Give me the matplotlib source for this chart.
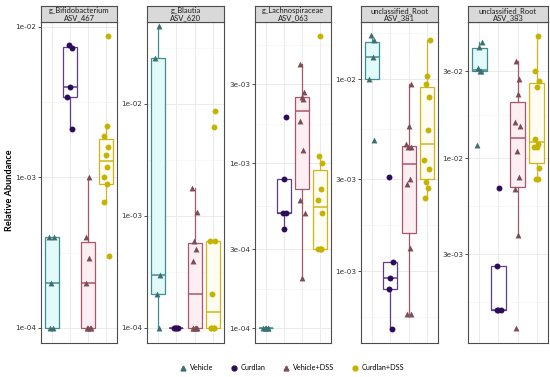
import numpy as np
import matplotlib
matplotlib.use("Agg")
import matplotlib.pyplot as plt
from matplotlib.lines import Line2D

groups = ["Vehicle", "Curdlan", "Vehicle+DSS", "Curdlan+DSS"]
strip_titles = ["g_Bifidobacterium\nASV_467", "g_Blautia\nASV_620", "g_Lachnospiraceae\nASV_063",
                "unclassified_Root\nASV_381", "unclassified_Root\nASV_383"]

# points per panel, per group (relative abundance)
p1_points = [[1e-4, 1e-4, 2e-4, 4e-4, 4e-4],
             [2.1e-3, 3.4e-3, 4.0e-3, 7.3e-3, 7.6e-3],
             [1e-4, 1e-4, 1e-4, 1e-4, 2e-4, 2.9e-4, 4e-4, 1e-3],
             [3e-4, 6.9e-4, 9e-4, 1.0e-3, 1.18e-3, 1.4e-3, 1.6e-3, 1.9e-3, 2.2e-3, 8.7e-3]]
p2_points = [[1e-4, 2e-4, 3e-4, 2.6e-2, 5e-2],
             [1e-4, 1e-4, 1e-4, 1e-4, 1e-4],
             [1e-4, 1e-4, 1e-4, 1e-4, 1e-4, 4e-4, 5.1e-4, 6e-4, 1.09e-3, 1.78e-3],
             [1e-4, 1e-4, 1e-4, 1e-4, 2e-4, 6e-4, 6e-4, 6.2e-3, 8.7e-3]]
p3_points = [[1e-4, 1e-4, 1e-4, 1e-4, 1e-4],
             [4e-4, 5e-4, 5e-4, 8e-4, 1.9e-3],
             [2e-4, 5e-4, 6e-4, 1.2e-3, 1.8e-3, 2.45e-3, 2.5e-3, 2.7e-3, 4e-3],
             [3e-4, 3e-4, 3e-4, 3e-4, 5e-4, 6e-4, 7e-4, 1e-3, 1.1e-3, 5.9e-3]]
p4_points = [[4.8e-3, 1e-2, 1.3e-2, 1.6e-2, 1.7e-2],
             [5e-4, 8.1e-4, 9.2e-4, 1.11e-3, 3.1e-3],
             [6e-4, 6e-4, 1.32e-3, 2.85e-3, 3.0e-3, 4.4e-3, 4.4e-3, 4.6e-3, 5.7e-3, 9.4e-3],
             [2.4e-3, 2.7e-3, 2.9e-3, 3.4e-3, 3.8e-3, 5.4e-3, 8.1e-3, 9.4e-3, 1.04e-2, 1.6e-2]]
p5_points = [[1.18e-2, 3e-2, 3e-2, 3.1e-2, 4.05e-2, 4.3e-2],
             [1.48e-3, 1.48e-3, 1.48e-3, 2.58e-3, 6.9e-3],
             [1.18e-3, 3.8e-3, 6.8e-3, 7.9e-3, 1.1e-2, 1.5e-2, 1.58e-2, 2.24e-2, 2.7e-2, 3.4e-2],
             [7.7e-3, 7.7e-3, 8.85e-3, 1.16e-2, 1.16e-2, 1.2e-2, 1.27e-2, 2.45e-2, 2.64e-2, 3e-2, 4.65e-2]]

# box stats per panel, per group: [whisker_low, q1, median, q3, whisker_high]
p1_box = [[1e-4, 1e-4, 2e-4, 4e-4, 4e-4],
          [2.1e-3, 3.4e-3, 4.0e-3, 7.4e-3, 7.6e-3],
          [1e-4, 1e-4, 2e-4, 3.7e-4, 1e-3],
          [6.9e-4, 9.1e-4, 1.28e-3, 1.8e-3, 2.2e-3]]
p2_box = [[1e-4, 2e-4, 3e-4, 2.6e-2, 5e-2],
          [1e-4, 1e-4, 1e-4, 1e-4, 1e-4],
          [1e-4, 1e-4, 2e-4, 5.75e-4, 1.78e-3],
          [1e-4, 1e-4, 1.39e-4, 6e-4, 6e-4]]
p3_box = [[1e-4, 1e-4, 1e-4, 1e-4, 1e-4],
          [4e-4, 5e-4, 5e-4, 8e-4, 8e-4],
          [2e-4, 7.0e-4, 2.07e-3, 2.5e-3, 4e-3],
          [3e-4, 3e-4, 5.4e-4, 9.1e-4, 1.1e-3]]
p4_box = [[1e-2, 1e-2, 1.3e-2, 1.56e-2, 1.7e-2],
          [5e-4, 8.1e-4, 9.2e-4, 1.11e-3, 1.11e-3],
          [6e-4, 1.58e-3, 3.6e-3, 4.5e-3, 9.4e-3],
          [2.4e-3, 3.0e-3, 4.6e-3, 9.1e-3, 1.6e-2]]
p5_box = [[3e-2, 3e-2, 3.05e-2, 4.0e-2, 4.3e-2],
          [1.48e-3, 1.48e-3, 1.48e-3, 2.58e-3, 2.58e-3],
          [3.8e-3, 7.0e-3, 1.29e-2, 2.03e-2, 3.4e-2],
          [7.7e-3, 9.4e-3, 1.23e-2, 2.58e-2, 4.65e-2]]

# y axis breaks and limits (log10) per panel
p_breaks = [[1e-2, 1e-3, 1e-4], [1e-2, 1e-3, 1e-4], [3e-3, 1e-3, 3e-4, 1e-4],
            [1e-2, 3e-3, 1e-3], [3e-2, 1e-2, 3e-3]]
p_break_labels = [["1e-02", "1e-03", "1e-04"], ["1e-02", "1e-03", "1e-04"],
                  ["3e-03", "1e-03", "3e-04", "1e-04"], ["1e-02", "3e-03", "1e-03"],
                  ["3e-02", "1e-02", "3e-03"]]
p_ylim_log = [(-4.10, -1.967), (-4.134, -1.268), (-4.09, -2.145), (-3.375, -1.703), (-3.009, -1.255)]

all_points = [p1_points, p2_points, p3_points, p4_points, p5_points]
all_boxes = [p1_box, p2_box, p3_box, p4_box, p5_box]

edge_colors = ["#3f8f8f", "#5b3d8c", "#a8566a", "#d2b41a"]
fill_colors = ["#e3fafa", "#ffffff", "#fdeef4", "#fffdf2"]
point_colors = ["#3c7070", "#2e0c5c", "#7d4c55", "#c4b300"]
markers = ["^", "o", "^", "o"]

jitter = [-0.11, 0.07, -0.03, 0.12, -0.14, 0.03, 0.10, -0.07, 0.0, 0.14, -0.10, 0.05]

W, H = 550, 377
fig = plt.figure(figsize=(5.5, 3.77), dpi=100)
plt.rcParams['font.family'] = ['DejaVu Sans']

panel_x = [(41, 117), (147, 224), (255, 331), (361, 438), (468, 548)]
top, bottom, strip_top = 22, 343, 6

for pi in range(5):
    x0, x1 = panel_x[pi]
    ax = fig.add_axes([x0 / W, 1 - bottom / H, (x1 - x0) / W, (bottom - top) / H])
    sax = fig.add_axes([x0 / W, 1 - top / H, (x1 - x0) / W, (top - strip_top) / H])
    sax.set_xticks([]); sax.set_yticks([])
    sax.set_facecolor("#d9d9d9")
    for s in sax.spines.values():
        s.set_color("#4d4d4d"); s.set_linewidth(0.8)
    sax.text(0.5, 0.5, strip_titles[pi], ha="center", va="center", fontsize=5.4,
             color="#1a1a1a", linespacing=0.95, transform=sax.transAxes, family="Lato")

    ax.set_yscale("log")
    lo, hi = p_ylim_log[pi]
    ax.set_ylim(10 ** lo, 10 ** hi)
    ax.set_xlim(0.4, 4.6)
    # grid
    br = np.log10(p_breaks[pi])
    br_sorted = np.sort(br)
    for b in br_sorted:
        ax.axhline(10 ** b, color="#ebebeb", lw=0.7, zorder=0)
    step = br_sorted[1] - br_sorted[0]
    minors = list((br_sorted[:-1] + br_sorted[1:]) / 2)
    minors += [br_sorted[0] - step / 2, br_sorted[-1] + step / 2]
    for m in minors:
        ax.axhline(10 ** m, color="#f4f4f4", lw=0.5, zorder=0)
    for xc in range(1, 5):
        ax.axvline(xc, color="#ebebeb", lw=0.7, zorder=0)

    for gi in range(4):
        wl, q1, med, q3, wh = all_boxes[pi][gi]
        st = dict(whislo=wl, q1=q1, med=med, q3=q3, whishi=wh, fliers=[])
        ax.bxp([st], positions=[gi + 1], widths=0.75, showfliers=False, showcaps=False,
               patch_artist=True,
               boxprops=dict(facecolor=fill_colors[gi], edgecolor=edge_colors[gi], lw=0.9),
               medianprops=dict(color=edge_colors[gi], lw=1.1),
               whiskerprops=dict(color=edge_colors[gi], lw=0.9))
        pts = all_points[pi][gi]
        xs = [gi + 1 + jitter[(k + gi * 3 + pi) % len(jitter)] for k in range(len(pts))]
        ax.scatter(xs, pts, marker=markers[gi], s=18, color=point_colors[gi], zorder=5,
                   linewidths=0)

    ax.set_yticks(p_breaks[pi])
    ax.set_yticklabels(p_break_labels[pi])
    ax.yaxis.set_minor_locator(matplotlib.ticker.NullLocator())
    ax.set_xticks([])
    ax.tick_params(axis="y", labelsize=5.2, length=2, width=0.6, pad=1.5, colors="#333333",
                   labelcolor="#333333")
    for s in ax.spines.values():
        s.set_color("#4d4d4d"); s.set_linewidth(0.8)

fig.text(10 / W, 1 - 190 / H, "Relative Abundance", rotation=90, ha="center", va="center",
         fontsize=6.6, fontweight="bold", family="Lato")

handles = [Line2D([], [], marker=markers[i], color=point_colors[i], lw=0, markersize=3.5)
           for i in range(4)]
leg = fig.legend(handles, groups, loc="center", bbox_to_anchor=(292 / W, 1 - 368 / H), ncol=4,
                 frameon=False, prop={"family": "Lato", "size": 5.2}, handletextpad=0.5,
                 columnspacing=2.3, handlelength=1.0)

fig.savefig("out.png", dpi=100)
